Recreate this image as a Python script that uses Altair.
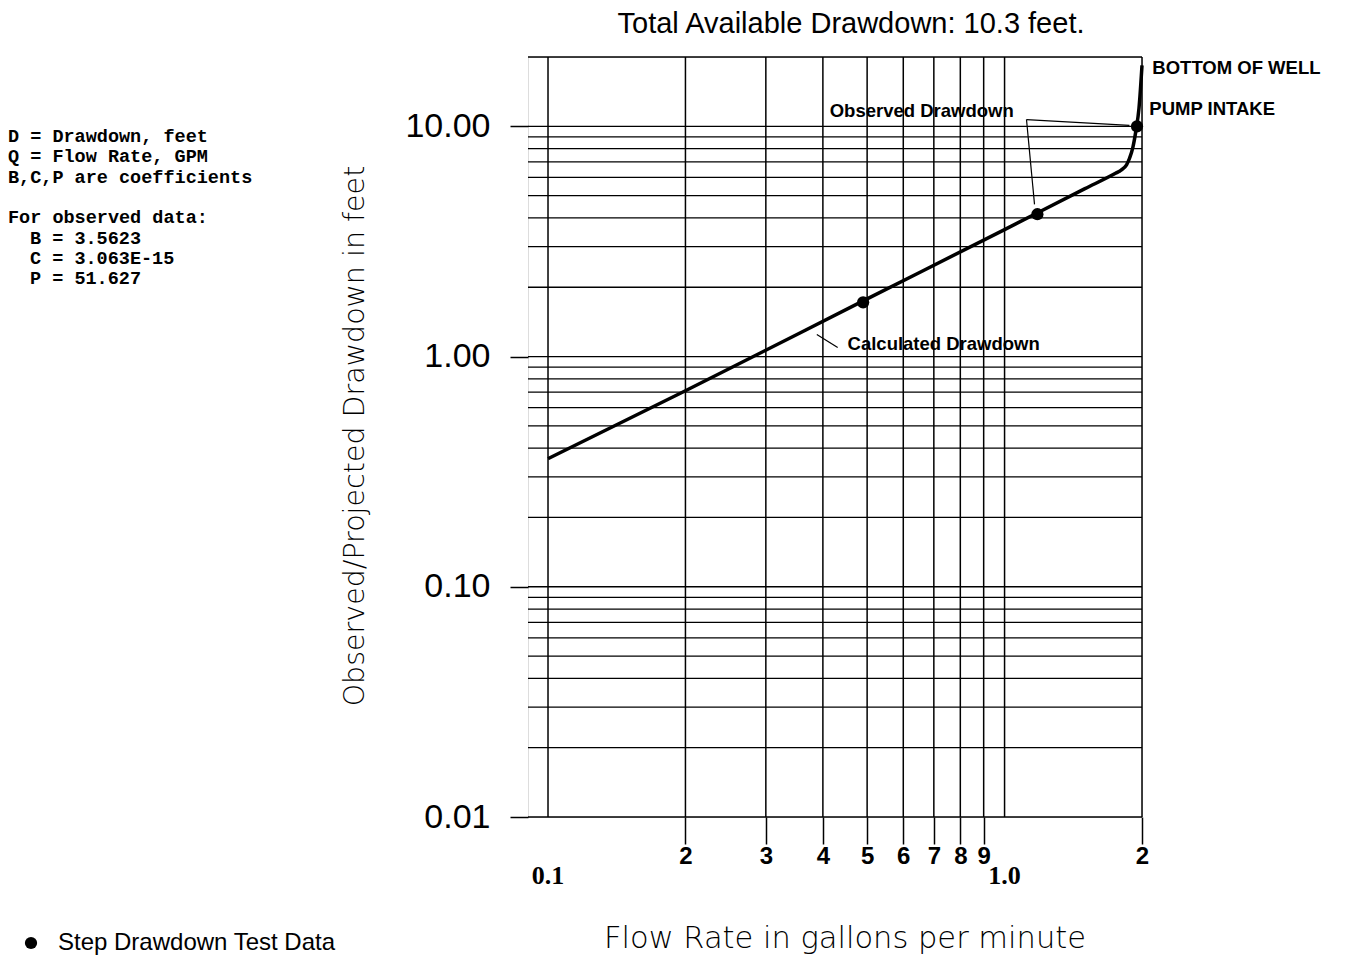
import altair as alt
import pandas as pd

# ---- data ----
curve_q = [0.1, 0.2, 0.5, 1.0, 1.5, 1.75, 1.8, 1.85, 1.88, 1.91, 1.94, 1.97, 2.0]
curve_d = [0.36, 0.71, 1.78, 3.56, 5.36, 6.25, 6.45, 6.8, 7.3, 8.1, 9.6, 12.0, 18.4]

obs_q = [0.49, 1.18, 1.95]
obs_d = [1.72, 4.15, 10.0]
series_name = "Step Drawdown Test Data"

x_grid = [0.1, 0.2, 0.3, 0.4, 0.5, 0.6, 0.7, 0.8, 0.9, 1.0, 2.0]
y_grid = [0.01, 0.02, 0.03, 0.04, 0.05, 0.06, 0.07, 0.08, 0.09,
          0.1, 0.2, 0.3, 0.4, 0.5, 0.6, 0.7, 0.8, 0.9,
          1, 2, 3, 4, 5, 6, 7, 8, 9, 10, 20]
y_major = [0.01, 0.1, 1, 10]
x_tick_values = [0.2, 0.3, 0.4, 0.5, 0.6, 0.7, 0.8, 0.9, 2.0]
decade_q = [0.1, 1.0]
decade_labels = ["0.1", "1.0"]

ann_labels = ["Observed Drawdown", "Calculated Drawdown", "BOTTOM OF WELL", "PUMP INTAKE"]
ann_q = [0.414, 0.453, 2.107, 2.075]
ann_d = [11.6, 1.139, 17.9, 11.86]

lead_q1 = [1.117, 1.117, 0.388]
lead_d1 = [10.7, 10.7, 1.246]
lead_q2 = [1.877, 1.163, 0.431]
lead_d2 = [10.1, 4.58, 1.094]

info_lines_a = ["D = Drawdown, feet", "Q = Flow Rate, GPM", "B,C,P are coefficients"]
info_lines_b = ["For observed data:"]
info_lines_c = ["B = 3.5623", "C = 3.063E-15", "P = 51.627"]
chart_title = "Total Available Drawdown: 10.3 feet."
y_title = "Observed/Projected Drawdown in feet"
x_title = "Flow Rate in gallons per minute"

# ---- tables ----
curve_df = pd.DataFrame({"q": curve_q, "d": curve_d})
obs_df = pd.DataFrame({"q": obs_q, "d": obs_d, "series": [series_name] * len(obs_q)})
xg_df = pd.DataFrame({"q": x_grid})
yg_df = pd.DataFrame({"d": y_grid})
dec_df = pd.DataFrame({"q": decade_q, "label": decade_labels})
ann_df = pd.DataFrame({"q": ann_q, "d": ann_d, "label": ann_labels})
lead_df = pd.DataFrame({"q": lead_q1, "d": lead_d1, "q2": lead_q2, "d2": lead_d2})

W, H = 614, 760
xs = alt.Scale(type="log", domain=[0.0904, 2.0], nice=False)
ys = alt.Scale(type="log", domain=[0.01, 20], nice=False)

xaxis = alt.Axis(values=x_tick_values, title=None, grid=False, domain=False,
                 tickSize=27, tickWidth=1.5, tickColor="black",
                 labelFont="Liberation Sans", labelFontSize=24, labelFontWeight="bold",
                 labelColor="black", labelPadding=0, labelFlush=False,
                 labelExpr="datum.value < 1 ? format(datum.value * 10, 'd') : format(datum.value, 'd')")
yaxis = alt.Axis(values=y_major, title=None, grid=False, domain=False,
                 tickSize=18, tickWidth=1.5, tickColor="black", format=".2f",
                 labelFont="Liberation Sans", labelFontSize=34, labelColor="black",
                 labelPadding=20, labelFlush=False)

X = lambda: alt.X("q:Q", scale=xs, axis=xaxis)
Y = lambda: alt.Y("d:Q", scale=ys, axis=yaxis)

vgrid = alt.Chart(xg_df).mark_rule(color="black", strokeWidth=1.5).encode(x=X())
hgrid = alt.Chart(yg_df).mark_rule(color="black", strokeWidth=1.3).encode(y=Y())

leaders = alt.Chart(lead_df).mark_rule(color="black", strokeWidth=1.2).encode(
    x=X(), y=Y(), x2="q2:Q", y2="d2:Q")

curve = alt.Chart(curve_df).mark_line(color="black", strokeWidth=3.5, interpolate="monotone").encode(
    x=X(), y=Y())

points = alt.Chart(obs_df).mark_circle(size=150, opacity=1).encode(
    x=X(), y=Y(),
    color=alt.Color("series:N", scale=alt.Scale(range=["black"]),
                    legend=alt.Legend(title=None, orient="none", legendX=-509, legendY=874,
                                      labelFont="Liberation Sans", labelFontSize=24,
                                      labelColor="black", labelLimit=0,
                                      symbolType="circle", symbolSize=150,
                                      symbolStrokeWidth=0, labelOffset=15, padding=0)))

ann = alt.Chart(ann_df).mark_text(font="Liberation Sans", fontSize=18.5, fontWeight="bold",
                                  align="left", baseline="middle", color="black").encode(
    x=X(), y=Y(), text="label:N")

dec = alt.Chart(dec_df).mark_text(font="Liberation Serif", fontSize=26, fontWeight="bold",
                                  align="center", baseline="middle", color="black").encode(
    x=X(), y=alt.value(819), text="label:N")

blank = pd.DataFrame({"k": [0]})
title_t = alt.Chart(blank).mark_text(font="Liberation Sans", fontSize=29, align="center",
                                     baseline="middle", color="black", text=chart_title).encode(
    x=alt.value(323), y=alt.value(-33))
ytitle_t = alt.Chart(blank).mark_text(font="DejaVu Sans", fontSize=28.5, fontWeight=200, angle=270,
                                      align="center", baseline="middle", color="black",
                                      text=y_title).encode(
    x=alt.value(-173), y=alt.value(379))
xtitle_t = alt.Chart(blank).mark_text(font="DejaVu Sans", fontSize=30.5, fontWeight=200,
                                      align="center", baseline="middle", color="black",
                                      text=x_title).encode(
    x=alt.value(317), y=alt.value(882))


def info_block(lines, x, y):
    return alt.Chart(blank).mark_text(font="Liberation Mono", fontSize=18.5, fontWeight="bold",
                                      align="left", baseline="alphabetic", lineHeight=20.3,
                                      color="black", text=lines).encode(
        x=alt.value(x), y=alt.value(y))


info_a = info_block(info_lines_a, -520, 85)
info_b = info_block(info_lines_b, -520, 166)
info_c = info_block(info_lines_c, -498, 186.5)

chart = alt.layer(vgrid, hgrid, leaders, curve, points, ann, dec,
                  title_t, ytitle_t, xtitle_t, info_a, info_b, info_c).properties(
    width=W, height=H,
    autosize=alt.AutoSizeParams(type="none"),
    padding={"left": 520, "top": 49, "right": 200, "bottom": 138},
).configure_view(stroke=None).configure(background="white")

chart.save("out.html", embed_options={"renderer": "svg", "actions": False})
